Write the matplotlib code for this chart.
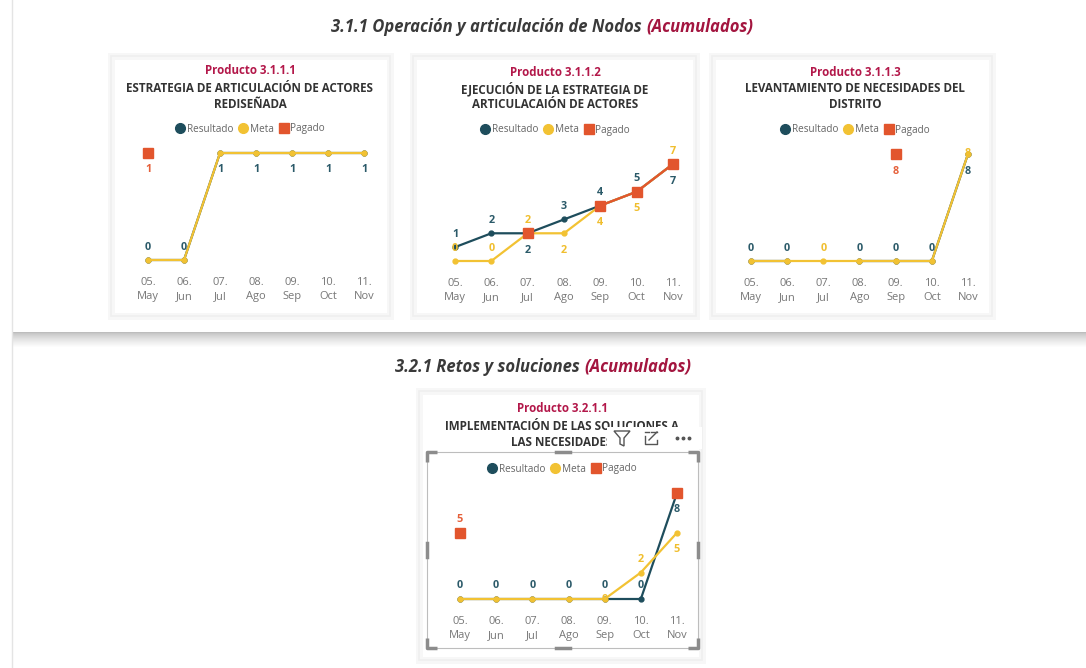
import numpy as np
import matplotlib
matplotlib.use("Agg")
import matplotlib.pyplot as plt
from matplotlib.patches import Rectangle, Polygon
from matplotlib.lines import Line2D

plt.rcParams['font.family'] = ['Open Sans', 'DejaVu Sans']

nan = np.nan
months = ['05.\nMay', '06.\nJun', '07.\nJul', '08.\nAgo', '09.\nSep', '10.\nOct', '11.\nNov']

res_3111 = [0, 0, 1, 1, 1, 1, 1]
meta_3111 = [0, 0, 1, 1, 1, 1, 1]
pag_3111 = [1, nan, nan, nan, nan, nan, nan]

res_3112 = [1, 2, 2, 3, 4, 5, 7]
meta_3112 = [0, 0, 2, 2, 4, 5, 7]
pag_3112 = [nan, nan, 2, nan, 4, 5, 7]

res_3113 = [0, 0, nan, 0, 0, 0, 8]
meta_3113 = [0, 0, 0, 0, 0, 0, 8]
pag_3113 = [nan, nan, nan, nan, 8, nan, nan]

res_3211 = [0, 0, 0, 0, 0, 0, 8]
meta_3211 = [0, 0, 0, 0, 0, 2, 5]
pag_3211 = [5, nan, nan, nan, nan, nan, 8]

C_RES = '#1E4D5C'
C_META = '#F2C233'
C_PAG = '#E2552D'
C_PROD = '#B3184A'
C_TXT = '#333333'

W, H = 1086, 668
fig = plt.figure(figsize=(W / 100, H / 100), dpi=100)
fig.patch.set_facecolor('white')

bg = fig.add_axes([0, 0, 1, 1])
bg.set_xlim(0, W)
bg.set_ylim(H, 0)
bg.axis('off')

# page decoration: left rule and shadow under the top section
bg.plot([12, 12], [0, H], color='#E4E4E4', lw=1)
for k in range(16):
    g = 0.74 + 0.26 * (k / 15) ** 0.7
    bg.add_patch(Rectangle((12, 332 + k), W - 12, 1, color=(g, g, g), lw=0))


def card(x0, y0, x1, y1):
    bg.add_patch(Rectangle((x0, y0), x1 - x0, y1 - y0, fc='white', ec='#F7F7F7', lw=5))
    bg.add_patch(Rectangle((x0, y0), x1 - x0, y1 - y0, fc='none', ec='#EFEFEF', lw=1.2))


card(111, 56, 390, 316)
card(413, 56, 696, 316)
card(712, 56, 992, 316)
card(419, 391, 702, 660)


def section_title(cx, cy, main, extra):
    r = fig.canvas.get_renderer()
    kw = dict(fontsize=12, fontweight='bold', style='italic', va='center',
              family=['Open Sans', 'DejaVu Sans'])
    t1 = bg.text(0, cy, main, color='#3A3A3A', **kw)
    t2 = bg.text(0, cy, extra, color='#A3153F', **kw)
    w1 = t1.get_window_extent(r).width
    w2 = t2.get_window_extent(r).width
    sx = cx - (w1 + w2) / 2
    t1.set_x(sx)
    t2.set_x(sx + w1)


section_title(542, 27, '3.1.1 Operación y articulación de Nodos ', '(Acumulados)')
section_title(543, 367, '3.2.1 Retos y soluciones ', '(Acumulados)')


def header(cx, y_prod, prod, lines, y_leg):
    bg.text(cx, y_prod, prod, ha='center', va='center', color=C_PROD,
            fontsize=8.3, fontweight='bold')
    for i, ln in enumerate(lines):
        bg.text(cx, y_prod + 17 + 16 * i, ln, ha='center', va='center',
                color=C_TXT, fontsize=8.4, fontweight='bold')
    handles = [Line2D([], [], color=C_RES, marker='o', ls='', ms=7),
               Line2D([], [], color=C_META, marker='o', ls='', ms=7),
               Line2D([], [], color=C_PAG, marker='s', ls='', ms=6.5)]
    fig.legend(handles, ['Resultado', 'Meta', 'Pagado'], ncol=3, frameon=False,
               loc='center', bbox_to_anchor=(cx / W, 1 - y_leg / H),
               handletextpad=0.15, columnspacing=0.5, fontsize=7.2,
               labelcolor='#666666', handlelength=1.0, borderpad=0)


header(250, 71, 'Producto 3.1.1.1',
       ['ESTRATEGIA DE ARTICULACIÓN DE ACTORES', 'REDISEÑADA'], 129)
header(555, 72, 'Producto 3.1.1.2',
       ['EJECUCIÓN DE LA ESTRATEGIA DE', 'ARTICULACAIÓN DE ACTORES'], 130)
header(855, 72, 'Producto 3.1.1.3',
       ['LEVANTAMIENTO DE NECESIDADES DEL', 'DISTRITO'], 130)
header(562, 409, 'Producto 3.2.1.1',
       ['IMPLEMENTACIÓN DE LAS SOLUCIONES A', 'LAS NECESIDADES'], 469)

OFF = {'a': (0, 13), 'b': (0, -17), 'c': (0, 0)}


def panel(x0, x6, y0, ytop, vmax, res, meta, pag, p_res, p_meta, p_pag):
    ax = fig.add_axes([x0 / W, 1 - y0 / H, (x6 - x0) / W, (y0 - ytop) / H])
    x = np.arange(len(months))
    ax.plot(x, res, color=C_RES, lw=1.6, marker='o', ms=3.5, clip_on=False, zorder=3)
    ax.plot(x, meta, color=C_META, lw=1.6, marker='o', ms=3.5, clip_on=False, zorder=4)
    ax.plot(x, pag, color=C_PAG, lw=1.6, marker='s', ms=6.5, clip_on=False, zorder=5)
    ax.set_xlim(0, len(months) - 1)
    ax.set_ylim(0, vmax)
    ax.patch.set_alpha(0)
    for s in ax.spines.values():
        s.set_visible(False)
    ax.set_yticks([])
    ax.set_xticks(x, months)
    ax.tick_params(axis='x', length=0, pad=12, labelsize=8, labelcolor='#777777')
    for lab in ax.get_xticklabels():
        lab.set_linespacing(1.4)
    for vals, pos, col in [(res, p_res, '#2B5A69'), (meta, p_meta, '#F0BE2E'),
                           (pag, p_pag, '#E5603A')]:
        for i, (v, p) in enumerate(zip(vals, pos)):
            if p is None or np.isnan(v):
                continue
            ax.annotate(f'{v:g}', (i, v), xytext=OFF[p], textcoords='offset pixels',
                        ha='center', va='center', color=col, fontsize=7.8,
                        fontweight='bold', zorder=6, annotation_clip=False)
    return ax


N = None
panel(148, 364, 260, 153, 1, res_3111, meta_3111, pag_3111,
      ['a', 'a', 'b', 'b', 'b', 'b', 'b'], [N] * 7, ['b', N, N, N, N, N, N])
panel(455, 673, 261, 164, 7, res_3112, meta_3112, pag_3112,
      ['a', 'a', 'b', 'a', 'a', 'a', 'b'], ['a', 'a', 'a', 'b', 'b', 'b', 'a'], [N] * 7)
panel(751, 968, 261, 154, 8, res_3113, meta_3113, pag_3113,
      ['a', 'a', N, 'a', 'a', 'a', 'b'], [N, N, 'a', N, N, N, 'c'],
      [N, N, N, N, 'b', N, N])
panel(460, 677, 599, 493, 8, res_3211, meta_3211, pag_3211,
      ['a', 'a', 'a', 'a', 'a', 'a', 'b'], [N, N, N, N, 'c', 'a', 'b'],
      ['a', N, N, N, N, N, N])

# selected visual: hover header covering the title and the selection frame
bg.add_patch(Rectangle((607, 427), 95, 22, fc='white', ec='none', zorder=5))
bg.add_patch(Polygon([(614, 431), (630, 431), (624, 438), (624, 446), (620, 444), (620, 438)],
                     closed=True, fc='none', ec='#555555', lw=1, zorder=6))
bg.plot([645, 645, 657, 657], [436, 444, 444, 440], color='#555555', lw=1, zorder=6)
bg.plot([645, 649], [432, 432], color='#555555', lw=1, zorder=6)
bg.plot([651, 657, 657], [432, 432, 432], color='#555555', lw=1, zorder=6)
bg.plot([649, 657], [440, 432], color='#555555', lw=1, zorder=6)
bg.plot([677, 683, 689], [438, 438, 438], ls='', marker='o', ms=1.8, color='#555555', zorder=6)

fx0, fy0, fx1, fy1 = 427, 452, 698, 648
bg.add_patch(Rectangle((fx0, fy0), fx1 - fx0, fy1 - fy0, fc='none', ec='#BDBDBD', lw=0.8))
L = 10
for cx, cy, sx, sy in [(fx0, fy0, 1, 1), (fx1, fy0, -1, 1), (fx0, fy1, 1, -1), (fx1, fy1, -1, -1)]:
    bg.plot([cx + sx * L, cx, cx], [cy, cy, cy + sy * L], color='#8C8C8C', lw=2.5,
            solid_capstyle='butt')
mx, my = (fx0 + fx1) / 2, (fy0 + fy1) / 2
bg.plot([mx - 7, mx + 7], [fy0, fy0], color='#8C8C8C', lw=2.5)
bg.plot([mx - 7, mx + 7], [fy1, fy1], color='#8C8C8C', lw=2.5)
bg.plot([fx0, fx0], [my - 7, my + 7], color='#8C8C8C', lw=2.5)
bg.plot([fx1, fx1], [my - 7, my + 7], color='#8C8C8C', lw=2.5)

fig.savefig('out.png', dpi=100, facecolor='white')
